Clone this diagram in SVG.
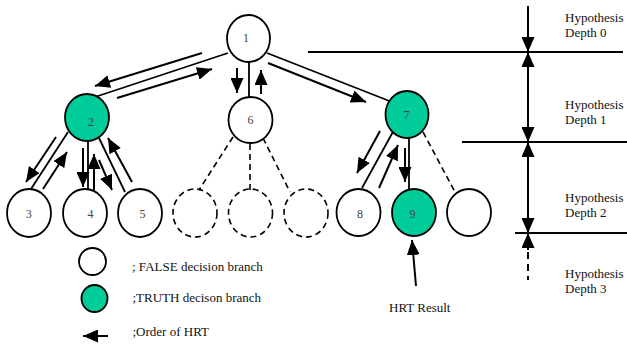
<svg xmlns="http://www.w3.org/2000/svg" width="627" height="345" viewBox="0 0 627 345">
<style>
.n{fill:#fff;stroke:#000;stroke-width:1.8}
.g{fill:#00CC99;stroke:#000;stroke-width:1.8}
.d{fill:none;stroke:#000;stroke-width:1.6;stroke-dasharray:6,4}
.l{stroke:#000;stroke-width:1.8;fill:none}
.a{stroke:#000;stroke-width:2;fill:none;marker-end:url(#ah)}
.dl{stroke:#000;stroke-width:1.6;stroke-dasharray:6,4;fill:none}
.num{font-family:"Liberation Serif","Times New Roman",serif;font-size:12px;fill:#444;text-anchor:middle}
.t{font-family:"Liberation Serif","Times New Roman",serif;font-size:13px;fill:#111}
</style>
<defs>
<marker id="ah" viewBox="0 0 15 13" markerWidth="15" markerHeight="13" refX="15" refY="6.5" orient="auto-start-reverse" markerUnits="userSpaceOnUse">
<path d="M0,0 L15,6.5 L0,13 z" fill="#000"/>
</marker>
</defs>
<rect width="627" height="345" fill="#fff"/>
<g id="connectors">
<line class="l" x1="228" y1="53" x2="95" y2="97"/>
<line class="a" x1="202" y1="53" x2="95" y2="86"/>
<line class="a" x1="117" y1="98" x2="212" y2="69"/>
<line class="l" x1="249" y1="62" x2="249" y2="97"/>
<line class="a" x1="237" y1="68" x2="237" y2="93"/>
<line class="a" x1="261" y1="94" x2="261" y2="70"/>
<line class="l" x1="267" y1="53" x2="392" y2="102"/>
<line class="a" x1="268" y1="63" x2="366" y2="102"/>
<line class="l" x1="68" y1="132" x2="31" y2="189"/>
<line class="a" x1="56" y1="137" x2="26" y2="182"/>
<line class="a" x1="43" y1="189" x2="67" y2="152"/>
<line class="l" x1="88" y1="141" x2="88" y2="189"/>
<line class="a" x1="83" y1="148" x2="83" y2="187"/>
<line class="a" x1="94" y1="190" x2="94" y2="154"/>
<line class="a" x1="99" y1="160" x2="112" y2="190"/>
<line class="l" x1="99" y1="138" x2="125" y2="192"/>
<line class="a" x1="132" y1="182" x2="108" y2="138"/>
<line class="l" x1="394" y1="130" x2="362" y2="188"/>
<line class="a" x1="380" y1="131" x2="357" y2="173"/>
<line class="a" x1="379" y1="188" x2="398" y2="145"/>
<line class="l" x1="409" y1="138" x2="409" y2="189"/>
<line class="a" x1="405" y1="148" x2="405" y2="182"/>
<line class="dl" x1="423" y1="132" x2="455" y2="192"/>
<line class="dl" x1="233" y1="137" x2="199" y2="190"/>
<line class="dl" x1="250" y1="144" x2="250" y2="190"/>
<line class="dl" x1="263" y1="138" x2="290" y2="192"/>
<line class="a" x1="416" y1="286" x2="412" y2="240"/>
</g>
<g id="depth-scale">
<line class="l" x1="308" y1="52" x2="623" y2="52"/>
<line class="l" x1="462" y1="142" x2="627" y2="142"/>
<line class="l" x1="515" y1="233" x2="627" y2="233"/>
<line class="a" x1="528" y1="6" x2="528" y2="52"/>
<line class="a" x1="528" y1="52" x2="528" y2="142" style="marker-start:url(#ah)"/>
<line class="a" x1="528" y1="142" x2="528" y2="233" style="marker-start:url(#ah)"/>
<line class="a" x1="528" y1="250" x2="528" y2="233"/>
<line x1="528" y1="252" x2="528" y2="280" stroke="#000" stroke-width="2" stroke-dasharray="7,5"/>
<text class="t" x="565" y="22">Hypothesis</text>
<text class="t" x="565" y="37">Depth 0</text>
<text class="t" x="565" y="109">Hypothesis</text>
<text class="t" x="565" y="124">Depth 1</text>
<text class="t" x="565" y="202">Hypothesis</text>
<text class="t" x="565" y="217">Depth 2</text>
<text class="t" x="565" y="278">Hypothesis</text>
<text class="t" x="565" y="293">Depth 3</text>
</g>
<g id="node1"><ellipse class="n" cx="248.5" cy="38.5" rx="21.5" ry="23.5"/><text class="num" x="246" y="42">1</text></g>
<g id="node2"><ellipse class="g" cx="87" cy="117.5" rx="22" ry="23.5"/><text class="num" x="91" y="126">2</text></g>
<g id="node6"><ellipse class="n" cx="250.5" cy="120" rx="22" ry="23"/><text class="num" x="250.5" y="124">6</text></g>
<g id="node7"><ellipse class="g" cx="407" cy="114.5" rx="21.5" ry="23.5"/><text class="num" x="406.5" y="119">7</text></g>
<g id="node3"><ellipse class="n" cx="29" cy="213" rx="22" ry="24"/><text class="num" x="28.7" y="217.5">3</text></g>
<g id="node4"><ellipse class="n" cx="85" cy="213" rx="22" ry="24"/><text class="num" x="90.5" y="217.5">4</text></g>
<g id="node5"><ellipse class="n" cx="140" cy="213" rx="22" ry="24"/><text class="num" x="142.5" y="217.5">5</text></g>
<g id="node6a"><ellipse class="d" cx="195" cy="213" rx="22" ry="24"/></g>
<g id="node6b"><ellipse class="d" cx="250.5" cy="213" rx="22" ry="24"/></g>
<g id="node6c"><ellipse class="d" cx="306" cy="213" rx="22" ry="24"/></g>
<g id="node8"><ellipse class="n" cx="358.5" cy="212.5" rx="22" ry="23.5"/><text class="num" x="360" y="217.5">8</text></g>
<g id="node9"><ellipse class="g" cx="414" cy="212.5" rx="22" ry="23.5"/><text class="num" x="412.5" y="217.5">9</text></g>
<g id="node7c"><ellipse class="n" cx="469" cy="212.5" rx="22" ry="23.5"/></g>
<g id="result-label"><text class="t" x="389" y="312">HRT Result</text></g>
<g id="legend">
<ellipse class="n" cx="92.5" cy="261.5" rx="13.5" ry="13.5"/>
<text class="t" x="132" y="271">; FALSE decision branch</text>
<ellipse class="g" cx="94.5" cy="298.5" rx="13" ry="13.5"/>
<text class="t" x="132.5" y="302">;TRUTH decison branch</text>
<line class="a" x1="108" y1="336" x2="83" y2="336"/>
<text class="t" x="132.5" y="336">;Order of HRT</text>
</g>
</svg>
